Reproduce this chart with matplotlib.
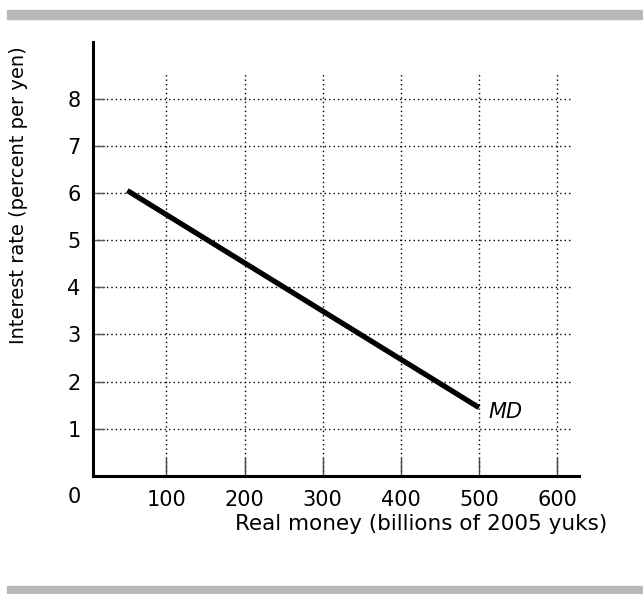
import matplotlib.pyplot as plt
from matplotlib.patches import Rectangle

plt.rcParams['font.family'] = ['DejaVu Sans']

# data
md_money = [50, 500]      # billions of 2005 yuks
md_rate = [6.05, 1.45]    # percent per yen
x_ticks = [100, 200, 300, 400, 500, 600]
y_ticks = [1, 2, 3, 4, 5, 6, 7, 8]

fig = plt.figure(figsize=(6.43, 5.94), dpi=100)
ax = fig.add_axes([0.1446, 0.1987, 0.9005 - 0.1446, 0.9293 - 0.1987])
ax.set_xlim(6, 628)
ax.set_ylim(0, 9.2)

# grey bars top and bottom
fig.patches.append(Rectangle((7/643, 1 - 19/594), 1, 9/594, transform=fig.transFigure,
                             color='#b8b8b8', zorder=0))
fig.patches.append(Rectangle((7/643, 0), 1, 8/594, transform=fig.transFigure,
                             color='#b8b8b8', zorder=0))

# dotted grid
for y in y_ticks:
    ax.plot([6, 619], [y, y], color='black', lw=1.0, ls=(0, (1, 2.2)), zorder=1)
    ax.plot([6, 20], [y, y], color='#555555', lw=1.0, zorder=1)
for x in x_ticks:
    ax.plot([x, x], [0, 8.55], color='black', lw=1.0, ls=(0, (1, 2.2)), zorder=1)
    ax.plot([x, x], [0, 0.38], color='#444444', lw=1.0, zorder=1)

ax.plot(md_money, md_rate, color='black', lw=3.8, solid_capstyle='butt', zorder=3)
ax.text(512, 1.35, 'MD', style='italic', fontsize=15, va='center', ha='left')

for s in ['top', 'right']:
    ax.spines[s].set_visible(False)
for s in ['left', 'bottom']:
    ax.spines[s].set_linewidth(2.2)

ax.set_xticks(x_ticks)
ax.set_yticks(y_ticks)
ax.tick_params(length=0, labelsize=15)
ax.tick_params(axis='y', pad=9)
ax.tick_params(axis='x', pad=10)
ax.text(-18, -0.45, '0', fontsize=15, ha='center', va='center')

ax.set_xlabel('Real money (billions of 2005 yuks)', fontsize=15.5)
ax.xaxis.set_label_coords(0.675, -0.11)
ax.xaxis.label.set_va('center')
ax.set_ylabel('Interest rate (percent per yen)', fontsize=14)
ax.yaxis.set_label_coords(-0.154, 0.647)
ax.yaxis.label.set_va('center')

fig.savefig('out.png', dpi=100)
